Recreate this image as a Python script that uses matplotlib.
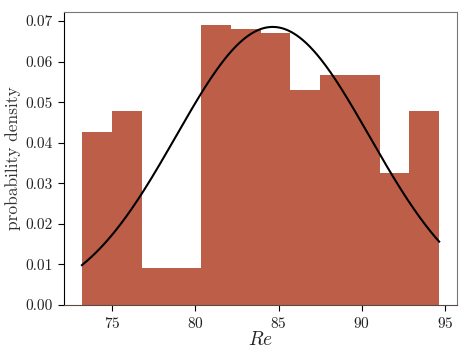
import numpy as np
import matplotlib
matplotlib.use('Agg')
import matplotlib.pyplot as plt

plt.rcParams['font.family'] = 'serif'
plt.rcParams['font.serif'] = ['cmr10']
plt.rcParams['mathtext.fontset'] = 'cm'
plt.rcParams['axes.formatter.use_mathtext'] = True

# histogram of Re (density), 12 equal bins
bin_lo = 73.18
bin_hi = 94.66
n_bins = 12
density = [0.0427, 0.0477, 0.0091, 0.0091, 0.0690, 0.0680,
           0.0670, 0.0529, 0.0568, 0.0568, 0.0325, 0.0477]

# fitted normal curve
mu = 84.65
sigma = 5.82

edges = np.linspace(bin_lo, bin_hi, n_bins + 1)
widths = np.diff(edges)

fig = plt.figure(figsize=(4.69, 3.56), dpi=100)
ax = fig.add_axes([0.1365, 0.1433, 0.8385, 0.8227])

ax.bar(edges[:-1], density, width=widths, align='edge',
       color='#bc5e48', linewidth=0)

x = np.linspace(bin_lo, bin_hi, 300)
pdf = np.exp(-0.5 * ((x - mu) / sigma) ** 2) / (sigma * np.sqrt(2 * np.pi))
ax.plot(x, pdf, color='black', lw=1.5)

ax.set_xlim(72.1, 95.75)
ax.set_ylim(0, 0.0722)
ax.set_xticks([75, 80, 85, 90, 95])
yt = np.arange(0, 0.071, 0.01)
ax.set_yticks(yt)
ax.set_yticklabels(['%.2f' % v for v in yt])

for s in ['top', 'right']:
    ax.spines[s].set_color('#777777')
ax.spines['left'].set_color('black')
ax.spines['bottom'].set_color('#5a4a46')
ax.tick_params(labelsize=11, length=4.5, top=False, right=False,
               labelcolor='#222222')

ax.set_xlabel('$Re$', fontsize=14, labelpad=0, color='#222222')
ax.set_ylabel('probability density', fontsize=12.5, labelpad=3,
              color='#333333')

fig.savefig('out.png', dpi=100)
